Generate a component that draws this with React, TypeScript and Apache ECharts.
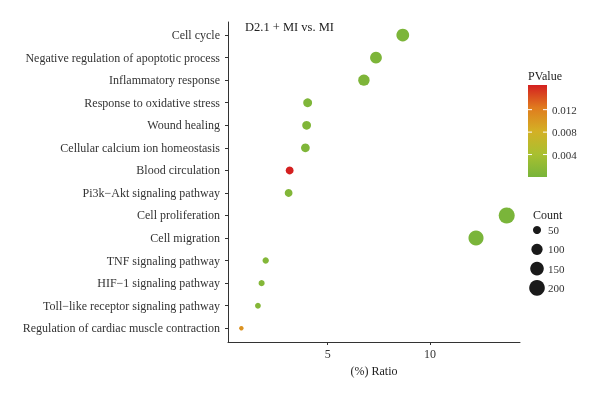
import React, { useEffect, useRef } from "react";
import * as echarts from "echarts";

const categories = [
  "Cell cycle",
  "Negative regulation of apoptotic process",
  "Inflammatory response",
  "Response to oxidative stress",
  "Wound healing",
  "Cellular calcium ion homeostasis",
  "Blood circulation",
  "Pi3k\u2212Akt signaling pathway",
  "Cell proliferation",
  "Cell migration",
  "TNF signaling pathway",
  "HIF\u22121 signaling pathway",
  "Toll\u2212like receptor signaling pathway",
  "Regulation of cardiac muscle contraction",
];
const ratios = [8.67, 7.36, 6.77, 4.02, 3.97, 3.91, 3.14, 3.09, 13.75, 12.25, 1.97, 1.77, 1.59, 0.78];
const counts = [132, 112, 103, 61, 60, 59, 48, 47, 208, 186, 30, 27, 24, 12];
const pvalues = [0.0003, 0.0004, 0.0005, 0.0006, 0.0007, 0.0006, 0.0164, 0.0008, 0.0002, 0.0002, 0.0009, 0.001, 0.0011, 0.0106];
const xTicks = [5, 10];
const pTicks = [0.004, 0.008, 0.012];
const sizeBreaks = [50, 100, 150, 200];
const colorStops = ["#78b43a", "#a9c030", "#d4b025", "#e07c1e", "#d42020"];

const FONT = "Liberation Serif";
const P_MIN = 0;
const P_MAX = 0.0164;
const sizeOf = (c: number) => Math.sqrt(5 + 1.2 * c);

export default function App() {
  const ref = useRef<HTMLDivElement>(null);
  useEffect(() => {
    if (!ref.current) return;
    const chart = echarts.init(ref.current, null, { renderer: "svg" });
    const data = categories.map((c, i) => [ratios[i], i + 1, counts[i], pvalues[i]]);

    const barX = 528, barTop = 85, barBottom = 177, barW = 19;
    const pToY = (p: number) => barBottom - ((p - P_MIN) / (P_MAX - P_MIN)) * (barBottom - barTop);
    const txt = (text: string, x: number, y: number, size: number, fill = "#222") => ({
      type: "text",
      x,
      y,
      style: { text, fontFamily: FONT, fontSize: size, fill, verticalAlign: "middle" },
    });
    const graphics: any[] = [
      txt("D2.1 + MI vs. MI", 245, 27, 12.5),
      txt("PValue", barX, 76, 12),
      {
        type: "rect",
        shape: { x: barX, y: barTop, width: barW, height: barBottom - barTop },
        style: {
          fill: new echarts.graphic.LinearGradient(
            0, 1, 0, 0,
            colorStops.map((c, i) => ({ offset: i / (colorStops.length - 1), color: c }))
          ),
        },
      },
    ];
    pTicks.forEach((p) => {
      const y = pToY(p);
      graphics.push(
        { type: "line", shape: { x1: barX, y1: y, x2: barX + 4, y2: y }, style: { stroke: "#fff", lineWidth: 1 } },
        { type: "line", shape: { x1: barX + barW - 4, y1: y, x2: barX + barW, y2: y }, style: { stroke: "#fff", lineWidth: 1 } },
        txt(p.toFixed(3), barX + barW + 5, y, 11, "#333")
      );
    });
    graphics.push(txt("Count", 533, 215, 12));
    sizeBreaks.forEach((c, i) => {
      const y = 230 + i * 19.3;
      graphics.push(
        { type: "circle", shape: { cx: 537, cy: y, r: sizeOf(c) / 2 }, style: { fill: "#1a1a1a" } },
        txt(String(c), 548, y, 11, "#333")
      );
    });

    chart.setOption({
      animation: false,
      textStyle: { fontFamily: FONT },
      grid: { left: 228, right: 80, top: 22, bottom: 56, containLabel: false },
      xAxis: {
        type: "value",
        min: 0.127,
        max: 14.4,
        name: "(%) Ratio",
        nameLocation: "middle",
        nameGap: 22,
        nameTextStyle: { fontFamily: FONT, fontSize: 12, color: "#222" },
        axisLine: { show: true, lineStyle: { color: "#333", width: 1 } },
        axisTick: { show: true, length: 3, lineStyle: { color: "#333" }, customValues: xTicks },
        axisLabel: { fontFamily: FONT, fontSize: 12, color: "#333", margin: 6, customValues: xTicks },
        splitLine: { show: false },
      },
      yAxis: {
        type: "value",
        inverse: true,
        min: 0.42,
        max: 14.61,
        axisLine: { show: true, lineStyle: { color: "#333", width: 1 } },
        axisTick: {
          show: true,
          length: 3,
          lineStyle: { color: "#333" },
          customValues: categories.map((_, i) => i + 1),
        },
        axisLabel: {
          fontFamily: FONT,
          fontSize: 12,
          color: "#333",
          margin: 8,
          customValues: categories.map((_, i) => i + 1),
          formatter: (v: number) => categories[Math.round(v) - 1] ?? "",
        },
        splitLine: { show: false },
      },
      visualMap: {
        show: false,
        type: "continuous",
        dimension: 3,
        min: P_MIN,
        max: P_MAX,
        inRange: { color: colorStops },
      },
      series: [
        {
          type: "scatter",
          data,
          encode: { x: 0, y: 1 },
          symbolSize: (v: number[]) => sizeOf(v[2]),
          itemStyle: { opacity: 1 },
        },
      ],
      graphic: graphics,
    });
    return () => chart.dispose();
  }, []);
  return <div ref={ref} style={{ position: "fixed", left: 0, top: 0, width: 600, height: 398 }} />;
}
